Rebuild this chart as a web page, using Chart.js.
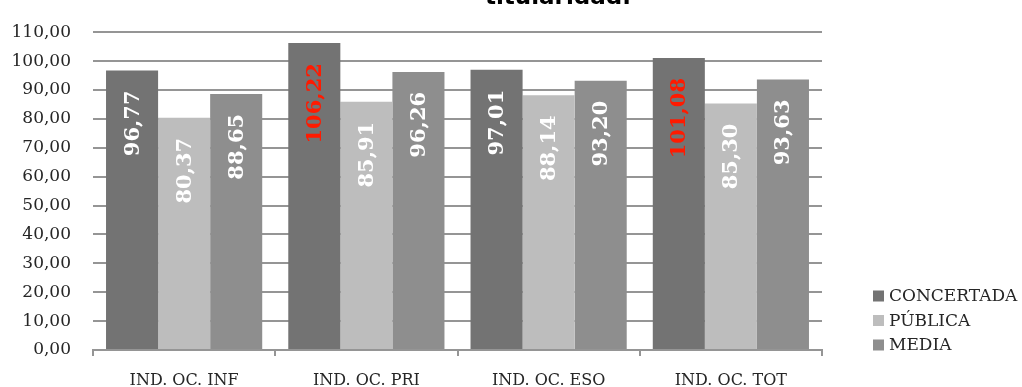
<!DOCTYPE html>
<html>
<head>
<meta charset="utf-8">
<script src="https://cdn.jsdelivr.net/npm/chart.js@4/dist/chart.umd.min.js"></script>
<style>
  html, body { margin: 0; padding: 0; background: #ffffff; }
  #wrap { width: 1022px; height: 387px; }
</style>
</head>
<body>
<div id="wrap"><canvas id="c" width="1022" height="387"></canvas></div>
<script>
// Índices de ocupación por etapa y titularidad
const categories = ['IND. OC. INF', 'IND. OC. PRI', 'IND. OC. ESO', 'IND. OC. TOT'];
const concertada = [96.77, 106.22, 97.01, 101.08];
const publica    = [80.37, 85.91, 88.14, 85.30];
const media      = [88.65, 96.26, 93.20, 93.63];
const seriesNames = ['CONCERTADA', 'PÚBLICA', 'MEDIA'];
const yTicks = [0, 10, 20, 30, 40, 50, 60, 70, 80, 90, 100, 110];
const titleText = 'titularidad.';

const colors = ['#737373', '#bdbdbd', '#8e8e8e'];
const gridColor = '#959595';
const textColor = '#262626';
const serif = '"DejaVu Serif", "Liberation Serif", serif';

const fmt = v => v.toFixed(2).replace('.', ',');

// Rotated value labels just inside the top of each bar
const barLabels = {
  id: 'barLabels',
  afterDatasetsDraw(chart) {
    const ctx = chart.ctx;
    ctx.save();
    ctx.font = 'bold 21px ' + serif;
    ctx.textAlign = 'right';
    ctx.textBaseline = 'middle';
    chart.data.datasets.forEach((ds, i) => {
      chart.getDatasetMeta(i).data.forEach((bar, j) => {
        const v = ds.data[j];
        ctx.save();
        ctx.translate(bar.x, bar.y + 20);
        ctx.rotate(-Math.PI / 2);
        ctx.fillStyle = v > 100 ? '#ff1a00' : '#ffffff';
        ctx.fillText(fmt(v), 0, 1);
        ctx.restore();
      });
    });
    ctx.restore();
  }
};

// Legend on the right, lower part
const sideLegend = {
  id: 'sideLegend',
  afterDraw(chart) {
    const ctx = chart.ctx;
    ctx.save();
    ctx.font = '17px ' + serif;
    ctx.textAlign = 'left';
    ctx.textBaseline = 'middle';
    const x0 = 873, y0 = 296, step = 24.5, box = 11;
    chart.data.datasets.forEach((ds, i) => {
      const cy = y0 + i * step;
      ctx.fillStyle = ds.backgroundColor;
      ctx.fillRect(x0, cy - box / 2, box, box);
      ctx.fillStyle = textColor;
      ctx.fillText(ds.label, x0 + 16, cy + 1);
    });
    ctx.restore();
  }
};

// Tail of the chart title, running off the top edge
const topTitle = {
  id: 'topTitle',
  afterDraw(chart) {
    const ctx = chart.ctx;
    ctx.save();
    ctx.font = 'bold 23px "DejaVu Sans"';
    ctx.textAlign = 'center';
    ctx.textBaseline = 'alphabetic';
    ctx.fillStyle = '#000000';
    ctx.fillText(titleText, 558, 4);
    ctx.restore();
  }
};

new Chart(document.getElementById('c'), {
  type: 'bar',
  data: {
    labels: categories,
    datasets: [concertada, publica, media].map((d, i) => ({
      label: seriesNames[i],
      data: d,
      backgroundColor: colors[i],
      borderWidth: 0,
      barPercentage: 1,
      categoryPercentage: 0.857
    }))
  },
  options: {
    responsive: false,
    animation: false,
    layout: { padding: { top: 22, right: 200, left: 0, bottom: 0 } },
    plugins: {
      legend: { display: false },
      tooltip: { enabled: false },
      title: { display: false }
    },
    scales: {
      x: {
        offset: true,
        grid: {
          offset: true,
          drawOnChartArea: false,
          drawTicks: true,
          tickLength: 6,
          color: gridColor,
          lineWidth: 2
        },
        border: { display: true, color: gridColor, width: 2 },
        ticks: {
          color: textColor,
          font: { family: serif, size: 16 },
          padding: 15,
          maxRotation: 0
        },
        afterFit(scale) { scale.height = 37; }
      },
      y: {
        min: 0,
        max: 110,
        afterBuildTicks(scale) { scale.ticks = yTicks.map(v => ({ value: v })); },
        grid: { drawTicks: false, color: gridColor, lineWidth: 2 },
        border: { display: false },
        ticks: {
          color: textColor,
          font: { family: serif, size: 17 },
          padding: 22,
          callback: v => fmt(v)
        },
        afterFit(scale) { scale.width = 93; }
      }
    }
  },
  plugins: [barLabels, sideLegend, topTitle]
});
</script>
</body>
</html>
